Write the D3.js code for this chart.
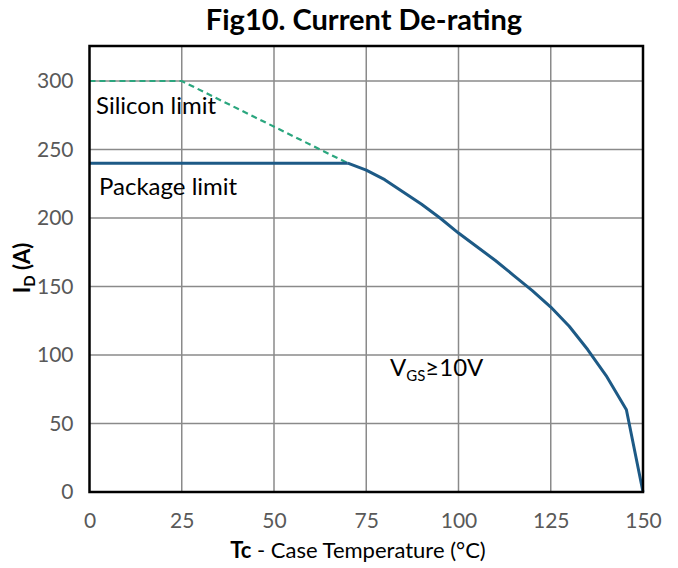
<!DOCTYPE html>
<html>
<head>
<meta charset="utf-8">
<script src="https://cdn.jsdelivr.net/npm/d3@7"></script>
<style>
  html, body { margin: 0; padding: 0; background: #ffffff; }
  svg { display: block; font-family: Lato, "Open Sans", sans-serif; }
</style>
</head>
<body>
<svg id="chart" width="678" height="568"></svg>
<script>
// Case temperature (°C) and drain current (A)
const xTicks = [0, 25, 50, 75, 100, 125, 150];
const yTicks = [0, 50, 100, 150, 200, 250, 300];

const siliconTemp = [0, 25, 70];
const siliconCurrent = [300, 300, 240];

const packageTemp = [0, 70];
const packageCurrent = [240, 240];

const deratingTemp = [70, 75, 80, 85, 90, 95, 100, 105, 110, 115, 120, 125, 130, 135, 140, 145.5, 150];
const deratingCurrent = [240, 235, 228, 219, 210, 200, 189, 179, 169, 158, 147, 135, 121, 104, 85, 60, 0];

const svg = d3.select("#chart");
const plotLeft = 89.5, plotRight = 643, plotTop = 46, plotBottom = 492;

const x = d3.scaleLinear().domain([0, 150]).range([plotLeft, plotRight]);
const y = d3.scaleLinear().domain([0, 300]).range([plotBottom, 81]);

// Title
svg.append("text")
  .attr("x", 364).attr("y", 30)
  .attr("text-anchor", "middle")
  .attr("font-size", 29).attr("font-weight", "bold")
  .attr("fill", "#000")
  .text("Fig10. Current De-rating");

// Grid lines
const grid = svg.append("g").attr("stroke", "#8a8a8a").attr("stroke-width", 1.5);
grid.selectAll(".vx").data(xTicks.slice(1, -1)).join("line")
  .attr("x1", d => x(d)).attr("x2", d => x(d))
  .attr("y1", plotTop).attr("y2", plotBottom);
grid.selectAll(".hy").data(yTicks.slice(1)).join("line")
  .attr("x1", plotLeft).attr("x2", plotRight)
  .attr("y1", d => y(d)).attr("y2", d => y(d));

// Axes (tick labels only)
const xAxis = svg.append("g")
  .attr("transform", `translate(0,${plotBottom})`)
  .call(d3.axisBottom(x).tickValues(xTicks).tickSize(0).tickPadding(21));
const yAxis = svg.append("g")
  .attr("transform", `translate(${plotLeft},0)`)
  .call(d3.axisLeft(y).tickValues(yTicks).tickSize(0).tickPadding(16));
[xAxis, yAxis].forEach(a => {
  a.select(".domain").remove();
  a.selectAll("text")
    .attr("font-family", "Lato, 'Open Sans', sans-serif")
    .attr("font-size", 21).attr("fill", "#595959");
});

// Curves
const line = d3.line().x(d => x(d[0])).y(d => y(d[1]));

svg.append("path")
  .datum(siliconTemp.map((t, i) => [t, siliconCurrent[i]]))
  .attr("d", line)
  .attr("fill", "none").attr("stroke", "#2aa67e")
  .attr("stroke-width", 2.2).attr("stroke-dasharray", "6,4");

svg.append("path")
  .datum(packageTemp.map((t, i) => [t, packageCurrent[i]]))
  .attr("d", line)
  .attr("fill", "none").attr("stroke", "#1d5a86")
  .attr("stroke-width", 3);

svg.append("path")
  .datum(deratingTemp.map((t, i) => [t, deratingCurrent[i]]))
  .attr("d", line)
  .attr("fill", "none").attr("stroke", "#1d5a86")
  .attr("stroke-width", 3).attr("stroke-linejoin", "round");

// Plot frame
svg.append("rect")
  .attr("x", plotLeft).attr("y", plotTop)
  .attr("width", plotRight - plotLeft).attr("height", plotBottom - plotTop)
  .attr("fill", "none").attr("stroke", "#000").attr("stroke-width", 2.5);

// Annotations
svg.append("text").attr("x", 96).attr("y", 114)
  .attr("font-size", 24).attr("fill", "#000").text("Silicon limit");
svg.append("text").attr("x", 99).attr("y", 195)
  .attr("font-size", 24).attr("fill", "#000").text("Package limit");

const vgs = svg.append("text").attr("x", 390).attr("y", 376)
  .attr("font-size", 24).attr("fill", "#000");
vgs.append("tspan").text("V");
vgs.append("tspan").attr("font-size", 15).attr("dy", 5).text("GS");
vgs.append("tspan").attr("dy", -5).text("≥10V");

// Axis titles
const xt = svg.append("text").attr("x", 358).attr("y", 558)
  .attr("text-anchor", "middle").attr("font-size", 22).attr("fill", "#000");
xt.append("tspan").attr("font-weight", "bold").text("Tc");
xt.append("tspan").text(" - Case Temperature (°C)");

const yt = svg.append("text")
  .attr("transform", "translate(30,268) rotate(-90)")
  .attr("text-anchor", "middle").attr("font-size", 22)
  .attr("font-weight", "bold").attr("fill", "#000");
yt.append("tspan").text("I");
yt.append("tspan").attr("font-size", 15).attr("dy", 5).text("D");
yt.append("tspan").attr("dy", -5).text(" (A)");
</script>
</body>
</html>
